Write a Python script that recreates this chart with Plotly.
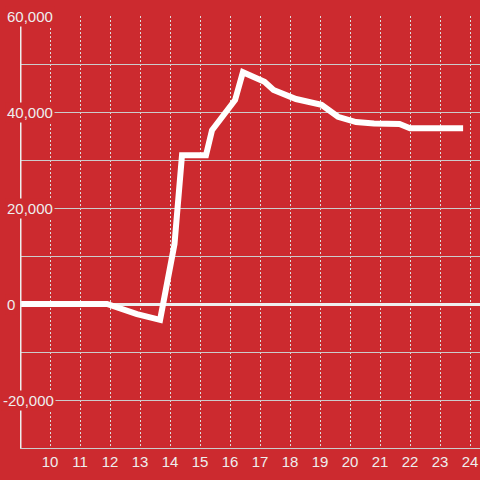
import plotly.graph_objects as go

# Data
x_vals = [8.9, 11.9, 12.9, 13.67, 14.15, 14.4, 15.2, 15.4, 16.17, 16.43, 17.15,
          17.45, 18.2, 19.05, 19.6, 20.2, 20.8, 21.65, 22.0, 23.77]
y_vals = [0, 0, -2100, -3300, 12500, 31000, 31000, 36200, 42500, 48300, 46300,
          44600, 42700, 41500, 39000, 37900, 37600, 37500, 36600, 36600]

x_ticks = list(range(10, 25))
x_tick_labels = [str(v) for v in x_ticks]
y_ticks = [-20000, 0, 20000, 40000, 60000]
y_tick_labels = ["-20,000", "0", "20,000", "40,000", "60,000"]

BG = "rgb(204,42,47)"
TXT = "#eeeeee"
FONT = "Liberation Sans, Arial, sans-serif"

fig = go.Figure()
fig.add_trace(go.Scatter(
    x=x_vals, y=y_vals, mode="lines",
    line=dict(color="#ffffff", width=6),
    hoverinfo="skip", showlegend=False,
))

annotations = []
for v, lab in zip(y_ticks, y_tick_labels):
    annotations.append(dict(
        x=0, xref="paper", y=v, yref="y", text=lab, showarrow=False,
        xanchor="left", yanchor="middle",
        xshift=-15 - (4 if lab.startswith("-") else 0),
        font=dict(family=FONT, size=15, color=TXT),
        bgcolor=BG, borderpad=1,
    ))

fig.update_layout(
    width=480, height=480,
    margin=dict(l=20, r=0, t=16, b=32, autoexpand=False),
    paper_bgcolor=BG, plot_bgcolor=BG,
    font=dict(family=FONT, size=15, color=TXT),
    showlegend=False,
    annotations=annotations,
    shapes=[dict(type="line", xref="x", yref="paper", x0=9, x1=9, y0=0, y1=1,
                 line=dict(color="#eeeeee", width=3), layer="above")],
    xaxis=dict(
        range=[9, 24.333], tickmode="array", tickvals=x_ticks, ticktext=x_tick_labels,
        showgrid=True, gridcolor="#dddddd", gridwidth=1, griddash="2px,2px",
        showline=True, linecolor="#cccccc", linewidth=1,
        zeroline=False, ticks="", tickfont=dict(family=FONT, size=15, color=TXT),
        fixedrange=True, automargin=False,
    ),
    yaxis=dict(
        range=[-30000, 60000], dtick=10000, tick0=0,
        showgrid=True, gridcolor="#cccccc", gridwidth=1,
        zeroline=True, zerolinecolor="#eeeeee", zerolinewidth=3,
        showline=False, showticklabels=False, ticks="",
        fixedrange=True, automargin=False,
    ),
)

fig.write_html("out.html", config={"displayModeBar": False},
               post_script="document.body.style.margin='0';document.body.style.overflow='hidden';")
